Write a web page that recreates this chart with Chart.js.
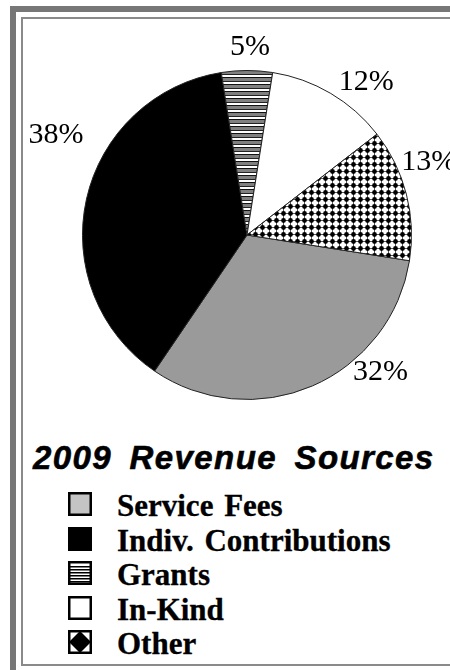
<!DOCTYPE html>
<html>
<head>
<meta charset="utf-8">
<script src="https://cdn.jsdelivr.net/npm/chart.js@4"></script>
<style>
  body { margin: 0; background: #fff; }
  #page { position: relative; width: 450px; height: 670px; overflow: hidden; background: #fff; }
  .bar { position: absolute; background: #777; }
  .line { position: absolute; background: #8a8a8a; }
  #pie { position: absolute; left: 0; top: 0; }
  #title {
    position: absolute; left: 33px; top: 443px; width: 420px;
    font: italic bold 33px "Liberation Sans", Arial, sans-serif;
    line-height: 30px; letter-spacing: 1.4px; word-spacing: 7px; white-space: nowrap;
    -webkit-text-stroke: 0.6px #000;
  }
  .row { position: absolute; left: 0; width: 450px; height: 34px; }
  .row canvas { position: absolute; left: 68px; top: 3px; }
  .row span {
    position: absolute; left: 117px; top: 0;
    font: bold 31px "Liberation Serif", "Times New Roman", serif;
    line-height: 34.5px; white-space: nowrap; word-spacing: 3px;
    -webkit-text-stroke: 0.3px #000;
  }
</style>
</head>
<body>
<div id="page">
  <div class="bar" style="left:10px;top:6px;width:440px;height:6px"></div>
  <div class="bar" style="left:10px;top:6px;width:6px;height:664px"></div>
  <div class="line" style="left:21px;top:17px;width:429px;height:2px"></div>
  <div class="line" style="left:21px;top:17px;width:2px;height:649px"></div>
  <div class="line" style="left:21px;top:664px;width:429px;height:2px"></div>
  <canvas id="pie" width="450" height="420"></canvas>
  <div id="title">2009 Revenue Sources</div>
  <div id="legend"></div>
</div>
<script>
// data
const categories = ["Service Fees", "Indiv. Contributions", "Grants", "In-Kind", "Other"];
const shares = [32, 38, 5, 12, 13];

// where each % label sits: fraction along the slice and distance in radii
const labelSpots = [
    { t: 0.32, r: 1.165 },
    { t: 0.61, r: 1.31 },
    { t: 0.55, r: 1.14 },
    { t: 0.67, r: 1.18 },
    { t: 0.34, r: 1.19 }
];

function makeTile(w, h, draw) {
    const c = document.createElement("canvas");
    c.width = w;
    c.height = h;
    draw(c.getContext("2d"));
    return c;
}

const stripeTile = makeTile(8, 7, g => {
    g.fillStyle = "#fff";
    g.fillRect(0, 0, 8, 7);
    g.fillStyle = "#111";
    g.fillRect(0, 0, 8, 1);
    g.fillStyle = "#808080";
    g.fillRect(0, 1, 8, 3);
    g.fillStyle = "#222";
    g.fillRect(0, 4, 8, 1);
});

const dotTile = makeTile(7, 7, g => {
    g.fillStyle = "#fff";
    g.fillRect(0, 0, 7, 7);
    g.fillStyle = "#555";
    g.fillRect(0, 3, 7, 1);
    g.fillRect(3, 0, 1, 7);
    g.fillStyle = "#000";
    g.beginPath();
    g.arc(3.5, 3.5, 2.4, 0, Math.PI * 2);
    g.fill();
});

const pctx = document.getElementById("pie").getContext("2d");
const fills = [
    "#9a9a9a",
    "#000000",
    pctx.createPattern(stripeTile, "repeat"),
    "#ffffff",
    pctx.createPattern(dotTile, "repeat")
];

const percentLabels = {
    id: "percentLabels",
    afterDatasetsDraw(chart) {
        const ctx = chart.ctx;
        const arcs = chart.getDatasetMeta(0).data;
        ctx.save();
        ctx.font = "30px 'Liberation Serif', 'Times New Roman', serif";
        ctx.fillStyle = "#000";
        ctx.textAlign = "center";
        ctx.textBaseline = "middle";
        arcs.forEach((arc, i) => {
            const p = arc.getProps(["x", "y", "startAngle", "endAngle", "outerRadius"], true);
            const spot = labelSpots[i];
            const a = p.startAngle + spot.t * (p.endAngle - p.startAngle);
            const d = p.outerRadius * spot.r;
            ctx.fillText(shares[i] + "%", p.x + Math.cos(a) * d, p.y + Math.sin(a) * d);
        });
        ctx.restore();
    }
};

new Chart(document.getElementById("pie"), {
    type: "pie",
    data: {
        labels: categories,
        datasets: [{
            data: shares,
            backgroundColor: fills,
            borderColor: "#222",
            borderWidth: 1
        }]
    },
    options: {
        responsive: false,
        animation: false,
        rotation: 99,
        layout: { padding: { left: 82, right: 38, top: 70, bottom: 20 } },
        plugins: {
            legend: { display: false },
            tooltip: { enabled: false }
        }
    },
    plugins: [percentLabels]
});

// legend icons
function drawIcon(g, i) {
    const s = 24;
    if (i === 0) {
        g.fillStyle = "#c4c4c4";
        g.fillRect(0, 0, s, s);
    } else if (i === 1) {
        g.fillStyle = "#000";
        g.fillRect(0, 0, s, s);
        return;
    } else if (i === 2) {
        g.fillStyle = "#fff";
        g.fillRect(0, 0, s, s);
        g.fillStyle = "#000";
        for (let y = 5; y < s - 3; y += 3) g.fillRect(2, Math.round(y), s - 4, 1.5);
    } else if (i === 3) {
        g.fillStyle = "#fff";
        g.fillRect(0, 0, s, s);
    } else {
        g.fillStyle = "#fff";
        g.fillRect(0, 0, s, s);
        g.fillStyle = "#000";
        g.beginPath();
        g.moveTo(s / 2, 1);
        g.lineTo(s - 1, s / 2);
        g.lineTo(s / 2, s - 1);
        g.lineTo(1, s / 2);
        g.closePath();
        g.fill();
    }
    g.strokeStyle = "#000";
    g.lineWidth = 2.5;
    g.strokeRect(1.25, 1.25, s - 2.5, s - 2.5);
}

const legend = document.getElementById("legend");
categories.forEach((name, i) => {
    const row = document.createElement("div");
    row.className = "row";
    row.style.top = (489 + i * 34.5) + "px";
    const icon = document.createElement("canvas");
    icon.width = 24;
    icon.height = 24;
    drawIcon(icon.getContext("2d"), i);
    const text = document.createElement("span");
    text.textContent = name;
    row.appendChild(icon);
    row.appendChild(text);
    legend.appendChild(row);
});
</script>
</body>
</html>
